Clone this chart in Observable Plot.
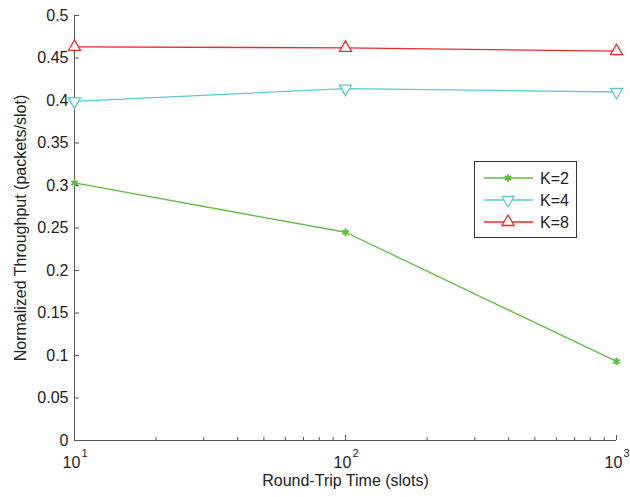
<!DOCTYPE html>
<html><head><meta charset="utf-8">
<script src="https://cdn.jsdelivr.net/npm/d3@7"></script>
<script src="https://cdn.jsdelivr.net/npm/@observablehq/plot@0.6"></script>
<style>
body{margin:0;background:#fff;font-family:"Liberation Sans",Arial,sans-serif;}
#wrap{position:relative;width:630px;height:497px;}
#legend{position:absolute;left:474px;top:161px;width:103px;height:77px;border:1px solid #333;background:#fff;box-sizing:border-box;}
</style></head>
<body><div id="wrap"><div id="chart"></div><div id="legend"></div></div>
<script>
const rtt = [10, 100, 1000];
const seriesNames = ["K=2", "K=4", "K=8"];
const k2 = [0.303, 0.245, 0.093];
const k4 = [0.399, 0.414, 0.410];
const k8 = [0.463, 0.462, 0.458];
const colors = ["#5cbf3c", "#5cc8d8", "#ee2a2a"];
const yTicks = [0,0.05,0.1,0.15,0.2,0.25,0.3,0.35,0.4,0.45,0.5];
const xMajor = [10, 100, 1000];
const xBase = ["10", "10", "10"];
const xExp = ["1", "2", "3"];
const xMinor = [20,30,40,50,60,70,80,90,200,300,400,500,600,700,800,900];

const allVals = [k2, k4, k8];
const data = [];
seriesNames.forEach((s,i)=>rtt.forEach((x,j)=>data.push({series:s, x, y:allVals[i][j]})));

const W=630,H=497,mL=74,mR=14,mT=15,mB=57;
const pw=W-mL-mR, ph=H-mT-mB;
const axisColor="#555";
const fs=16;

const chart = Plot.plot({
  width:W, height:H, marginLeft:mL, marginRight:mR, marginTop:mT, marginBottom:mB,
  style:{fontFamily:"'Liberation Sans', Arial, sans-serif", fontSize:"16px", color:"#222", background:"#fff", overflow:"visible"},
  x:{type:"log", domain:[10,1000], axis:null},
  y:{domain:[0,0.5], axis:null},
  color:{domain:seriesNames, range:colors},
  marks:[
    Plot.ruleX([10], {stroke:axisColor}),
    Plot.ruleY([0], {stroke:axisColor}),
    Plot.tickY(yTicks, {y:d=>d, stroke:axisColor, insetRight:pw-5}),
    Plot.tickX(xMajor, {x:d=>d, stroke:axisColor, insetTop:ph-5}),
    Plot.tickX(xMinor, {x:d=>d, stroke:axisColor, insetTop:ph-3}),
    Plot.text(yTicks, {x:10, y:d=>d, text:d=>String(d), textAnchor:"end", dx:-6, fill:"#222", fontSize:fs}),
    Plot.text(xMajor, {x:d=>d, y:0, text:(d,i)=>xBase[i], dy:22, dx:-3, fill:"#222", fontSize:fs}),
    Plot.text(xMajor, {x:d=>d, y:0, text:(d,i)=>xExp[i], dy:13, dx:10, fill:"#222", fontSize:11}),
    Plot.text(["Round-Trip Time (slots)"], {frameAnchor:"bottom", dy:45, fill:"#222", fontSize:fs}),
    Plot.text(["Normalized Throughput (packets/slot)"], {frameAnchor:"left", textAnchor:"middle", dx:-54, rotate:-90, fill:"#222", fontSize:fs}),
    Plot.line(data, {x:"x", y:"y", z:"series", stroke:"series", strokeWidth:1.3}),
    Plot.dot(data.filter(d=>d.series==="K=2"), {x:"x", y:"y", symbol:"asterisk", r:3.5, stroke:"series", strokeWidth:2}),
    Plot.dot(data.filter(d=>d.series==="K=4"), {x:"x", y:"y", symbol:"triangle", rotate:180, r:4.5, stroke:"series", fill:"white", strokeWidth:1.3}),
    Plot.dot(data.filter(d=>d.series==="K=8"), {x:"x", y:"y", symbol:"triangle", r:4.5, stroke:"series", fill:"white", strokeWidth:1.3})
  ]
});
document.getElementById("chart").appendChild(chart);

// legend
const symbols = [d3.symbolAsterisk, d3.symbolTriangle, d3.symbolTriangle];
const sizes = [38, 64, 64];
const rot = [0, 180, 0];
const lg = d3.select("#legend").append("svg").attr("width",101).attr("height",75);
seriesNames.forEach((s,i)=>{
  const y = 16 + i*22;
  lg.append("line").attr("x1",9).attr("x2",58).attr("y1",y).attr("y2",y).attr("stroke",colors[i]).attr("stroke-width",1.3);
  lg.append("path").attr("d",d3.symbol(symbols[i], sizes[i])()).attr("transform",`translate(33,${y}) rotate(${rot[i]})`)
    .attr("fill", i===0?"none":"white").attr("stroke",colors[i]).attr("stroke-width", i===0?2:1.3);
  lg.append("text").attr("x",65).attr("y",y+6).attr("font-size",16).attr("font-family","'Liberation Sans', Arial, sans-serif").attr("fill","#222").text(s);
});
</script></body></html>
